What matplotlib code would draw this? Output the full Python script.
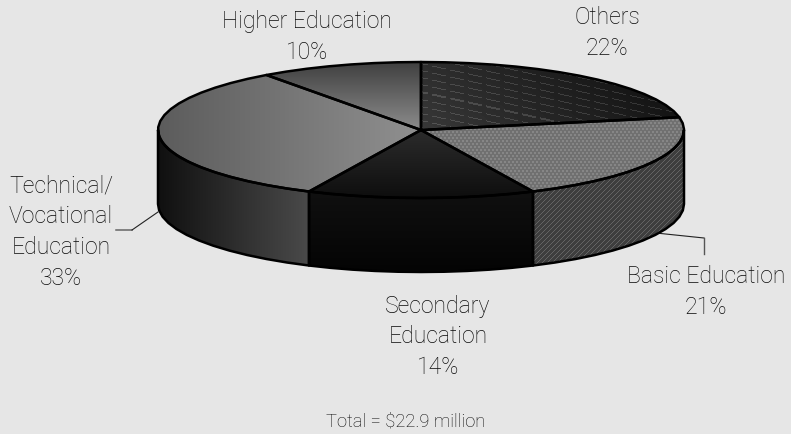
import numpy as np
import matplotlib
matplotlib.use("Agg")
import matplotlib.pyplot as plt
from matplotlib.patches import Polygon
from matplotlib.colors import LinearSegmentedColormap

plt.rcParams['font.family'] = ['Roboto', 'DejaVu Sans']

categories = ['Others', 'Basic Education', 'Secondary Education',
              'Technical/Vocational Education', 'Higher Education']
shares = [22, 21, 14, 33, 10]

BG = '#e6e6e6'
W, H = 791, 435
CX, CY = 421, 131
RX, RY = 263, 68
DEPTH = 74

# gradient slices: colour ends and direction, None means a texture fill
top_shade = [None, None, ('#2c2c2c', '#0e0e0e', 'v'),
             ('#5c5c5c', '#909090', 'h'), ('#404040', '#8c8c8c', 'v')]
side_shade = [None, None, ('#101010', '#040404', 'v'),
              ('#101010', '#4a4a4a', 'h'), None]

fig = plt.figure(figsize=(W / 100, H / 100), dpi=100, facecolor=BG)
ax = fig.add_axes([0, 0, 1, 1])
ax.set_xlim(0, W)
ax.set_ylim(H, 0)
ax.axis('off')

yy, xx = np.mgrid[0:H, 0:W]


def rim(a0, a1):
    # ellipse points, clockwise from twelve o'clock, in coarse facets
    n = max(int((a1 - a0) / 5), 2) + 1
    t = np.radians(np.linspace(a0, a1, n))
    return np.column_stack([CX + RX * np.sin(t), CY - RY * np.cos(t)])


def clip_to(im, poly):
    patch = Polygon(poly, closed=True, fc='none', ec='none')
    ax.add_patch(patch)
    im.set_clip_path(patch)


def shaded(poly, c0, c1, way):
    x0, y0 = poly.min(axis=0)
    x1, y1 = poly.max(axis=0)
    ramp = np.linspace(0, 1, 128)
    img = ramp[None, :] if way == 'h' else ramp[:, None]
    cmap = LinearSegmentedColormap.from_list('s', [c0, c1])
    im = ax.imshow(img, extent=[x0, x1, y1, y0], cmap=cmap, vmin=0, vmax=1,
                   aspect='auto', zorder=2, interpolation='bilinear')
    clip_to(im, poly)


def textured(poly, grey):
    im = ax.imshow(grey, extent=[0, W, H, 0], cmap='gray', vmin=0, vmax=255,
                   aspect='auto', zorder=2, interpolation='nearest')
    clip_to(im, poly)


def outline(poly):
    ax.add_patch(Polygon(poly, closed=True, fc='none', ec='black', lw=1.8,
                         joinstyle='round', zorder=5))


# dashes on a dark ramp for Others
dash_row = (yy - 0.22 * xx).astype(int) % 7
dash_on = (xx % 18) < 14
others_tex = 56 - 0.13 * (xx - CX) - 0.15 * (CY - yy)
others_tex = np.where((dash_row == 0) & dash_on, others_tex + 30, others_tex)

# small brick dots for the Basic Education top
brick = ((xx + 2 * (yy // 3 % 2)) % 4 < 2) & (yy % 3 != 2)
basic_top_tex = np.where(brick, 134, 112)

# thin diagonals for the Basic Education wall
basic_side_tex = np.where((xx + yy) % 5 == 0, 100, 62)

edges = np.cumsum([0] + shares) * 3.6

# side wall, only the front half of the cylinder shows
for i, (a0, a1) in enumerate(zip(edges[:-1], edges[1:])):
    lo, hi = max(a0, 90), min(a1, 270)
    if hi <= lo:
        continue
    arc = rim(lo, hi)
    wall = np.vstack([arc, (arc + [0, DEPTH])[::-1]])
    if side_shade[i] is None:
        textured(wall, basic_side_tex)
    else:
        shaded(wall, *side_shade[i])
    outline(wall)

# top face slices
for i, (a0, a1) in enumerate(zip(edges[:-1], edges[1:])):
    poly = np.vstack([[CX, CY], rim(a0, a1)])
    if i == 0:
        textured(poly, others_tex)
    elif i == 1:
        textured(poly, basic_top_tex)
    else:
        shaded(poly, *top_shade[i])
    outline(poly)

# leader lines
ax.plot([116, 132], [231, 231], color='#666666', lw=1.1, zorder=1)
ax.plot([132, 158], [231, 213], color='#222222', lw=0.8, zorder=1)
ax.plot([656, 704], [234, 239], color='#222222', lw=0.8, zorder=1)
ax.plot([704, 704], [239, 255], color='#555555', lw=1.0, zorder=1)

txt = dict(ha='center', va='center', fontsize=16.6, color='#0a0a0a',
           weight='light', linespacing=1.44)
ax.text(307, 37, 'Higher Education\n10%', **txt)
ax.text(607, 33, 'Others\n22%', **txt)
ax.text(706, 292, 'Basic Education\n21%', **txt)
ax.text(438, 337, 'Secondary\nEducation\n14%', **txt)
ax.text(61, 232, 'Technical/\nVocational\nEducation\n33%', **txt)
ax.text(406, 422, r'Total = \$22.9 million', ha='center', va='center',
        fontsize=13.2, color='#0a0a0a', weight='light')

fig.savefig('out.png', dpi=100, facecolor=BG)
